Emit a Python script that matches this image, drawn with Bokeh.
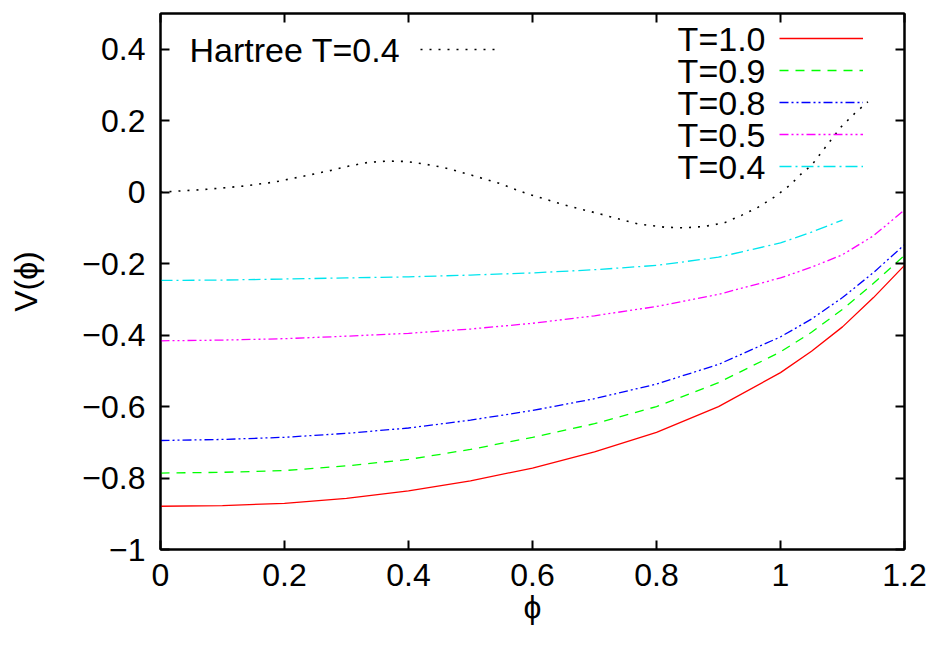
from bokeh.plotting import figure
from bokeh.models import (LinearAxis, FixedTicker, Legend, LegendItem, Label,
                          CustomJSTickFormatter, Range1d)
from bokeh.embed import file_html
from bokeh.resources import INLINE

FONT = "Liberation Sans"
FS = "32px"
LFS = "34px"

# ---- data ----
x_ticks = [0, 0.2, 0.4, 0.6, 0.8, 1.0, 1.2]
x_tick_labels = ["0", "0.2", "0.4", "0.6", "0.8", "1", "1.2"]
y_ticks = [-1, -0.8, -0.6, -0.4, -0.2, 0, 0.2, 0.4]
y_tick_labels = ["−1", "−0.8", "−0.6", "−0.4", "−0.2", "0", "0.2", "0.4"]

phi = [0, 0.1, 0.2, 0.3, 0.4, 0.5, 0.6, 0.7, 0.8, 0.9, 1.0, 1.05, 1.1, 1.15, 1.2]
v_t10 = [-0.879, -0.877, -0.871, -0.857, -0.836, -0.808, -0.772, -0.727, -0.672,
         -0.600, -0.505, -0.445, -0.377, -0.295, -0.205]
v_t09 = [-0.786, -0.784, -0.779, -0.766, -0.748, -0.720, -0.686, -0.648, -0.600,
         -0.533, -0.447, -0.392, -0.328, -0.255, -0.177]
v_t08 = [-0.695, -0.692, -0.686, -0.675, -0.660, -0.638, -0.611, -0.578, -0.537,
         -0.482, -0.405, -0.355, -0.295, -0.225, -0.147]
v_t05 = [-0.416, -0.414, -0.410, -0.403, -0.395, -0.383, -0.367, -0.346, -0.320,
         -0.286, -0.240, -0.210, -0.175, -0.122, -0.050]
phi_t04 = [0, 0.1, 0.2, 0.3, 0.4, 0.5, 0.6, 0.7, 0.8, 0.9, 1.0, 1.05, 1.1]
v_t04 = [-0.247, -0.246, -0.243, -0.240, -0.237, -0.232, -0.226, -0.217, -0.205,
         -0.182, -0.142, -0.112, -0.078]
phi_h = [0, 0.075, 0.134, 0.183, 0.229, 0.275, 0.304, 0.334, 0.366, 0.396, 0.425,
         0.457, 0.501, 0.546, 0.589, 0.65, 0.711, 0.77, 0.813, 0.845, 0.877, 0.909,
         0.937, 0.964, 0.99, 1.015, 1.034, 1.05, 1.077, 1.098, 1.12, 1.141]
v_h = [0, 0.008, 0.017, 0.028, 0.044, 0.061, 0.073, 0.083, 0.087, 0.086, 0.079,
       0.069, 0.048, 0.025, -0.003, -0.035, -0.062, -0.089, -0.098, -0.100, -0.096,
       -0.086, -0.065, -0.042, -0.014, 0.019, 0.052, 0.075, 0.136, 0.183, 0.221, 0.253]

series = [
    ("T=1.0", phi, v_t10, "#ff0000", None),
    ("T=0.9", phi, v_t09, "#00ff00", "9 7"),
    ("T=0.8", phi, v_t08, "#0000ff", "9 3 2 3 2 3"),
    ("T=0.5", phi, v_t05, "#ff00ff", "9 3 2 3 2 3 2 3"),
    ("T=0.4", phi_t04, v_t04, "#00e5ee", "12 4 2 4"),
]

p = figure(frame_width=744, frame_height=536,
           min_border_left=160, min_border_right=24,
           min_border_top=13, min_border_bottom=89,
           x_range=Range1d(0, 1.2), y_range=Range1d(-1, 0.5),
           output_backend="svg", toolbar_location=None)
p.xgrid.visible = False
p.ygrid.visible = False
p.outline_line_color = "black"
p.outline_line_width = 2
p.background_fill_color = "white"
p.border_fill_color = "white"

for ax, ticks, labels in ((p.xaxis[0], x_ticks, x_tick_labels),
                          (p.yaxis[0], y_ticks, y_tick_labels)):
    ax.ticker = FixedTicker(ticks=ticks)
    ax.major_label_overrides = {t: l for t, l in zip(ticks, labels)}
    ax.major_tick_in = 9
    ax.major_tick_out = 0
    ax.major_tick_line_width = 2
    ax.minor_tick_line_color = None
    ax.axis_line_width = 2
    ax.major_label_text_font = FONT
    ax.major_label_text_font_size = FS
    ax.major_label_text_color = "black"
    ax.axis_label_text_font = FONT
    ax.axis_label_text_font_size = FS
    ax.axis_label_text_font_style = "normal"
    ax.axis_label_text_color = "black"

p.xaxis[0].axis_label = "ϕ"
p.xaxis[0].major_label_standoff = 14
p.xaxis[0].axis_label_standoff = 0
p.yaxis[0].axis_label = "V(ϕ)"
p.yaxis[0].major_label_standoff = 15
p.yaxis[0].axis_label_standoff = 35

# mirror ticks on top and right
blank = CustomJSTickFormatter(code="return ''")
for loc, ticks in (("above", x_ticks), ("right", y_ticks)):
    ax = LinearAxis(ticker=FixedTicker(ticks=ticks), formatter=blank,
                    major_tick_in=9, major_tick_out=0, major_tick_line_width=2,
                    minor_tick_line_color=None, axis_line_width=2,
                    major_label_standoff=0, major_label_text_font_size="1px")
    p.add_layout(ax, loc)

renderers = []
for name, xs, ys, color, dash in series:
    r = p.line(xs, ys, line_color=color, line_width=1.3,
               line_dash=dash if dash else "solid")
    renderers.append((name, r))
rh = p.line(phi_h, v_h, line_color="black", line_width=1.6, line_dash="2 7")

# right legend: labels to the left of samples
row_pitch = 32
first_row = 511
leg = Legend(items=[LegendItem(label=" ", renderers=[r]) for _, r in renderers],
             location=(619, first_row - row_pitch * (len(renderers) - 1) - 10),
             glyph_width=84, glyph_height=20, spacing=row_pitch - 20,
             padding=0, margin=0, label_standoff=0, label_width=0, label_height=20,
             label_text_font_size="1px", border_line_color=None,
             background_fill_alpha=0)
p.add_layout(leg)
for i, (name, _) in enumerate(renderers):
    p.add_layout(Label(x=605, y=first_row - i * row_pitch, x_units="screen",
                       y_units="screen", text=name, text_align="right",
                       text_baseline="middle", text_font=FONT, text_font_size=LFS,
                       text_color="black"))

# left legend (Hartree)
leg2 = Legend(items=[LegendItem(label=" ", renderers=[rh])],
              location=(260, 490), glyph_width=76, glyph_height=20,
              padding=0, margin=0, label_standoff=0, label_width=0, label_height=20,
              label_text_font_size="1px", border_line_color=None,
              background_fill_alpha=0)
p.add_layout(leg2)
p.add_layout(Label(x=29, y=500, x_units="screen", y_units="screen",
                   text="Hartree T=0.4", text_align="left", text_baseline="middle",
                   text_font=FONT, text_font_size=LFS, text_color="black"))

open("out.html", "w").write(file_html(p, INLINE))
